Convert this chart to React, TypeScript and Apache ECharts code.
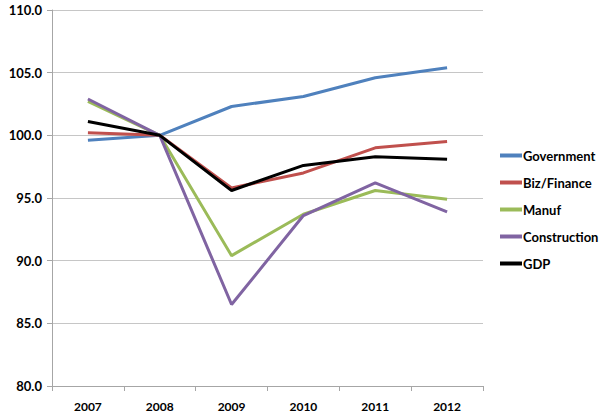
import React, { useEffect, useRef } from "react";
import * as echarts from "echarts";

const years = ["2007", "2008", "2009", "2010", "2011", "2012"];
const government = [99.6, 100.0, 102.3, 103.1, 104.6, 105.4];
const bizFinance = [100.2, 100.0, 95.8, 97.0, 99.0, 99.5];
const manuf = [102.7, 100.0, 90.4, 93.7, 95.6, 94.9];
const construction = [102.9, 100.0, 86.5, 93.6, 96.2, 93.9];
const gdp = [101.1, 100.0, 95.6, 97.6, 98.3, 98.1];

const seriesDefs = [
  { name: "Government", data: government, color: "#4f81bd" },
  { name: "Biz/Finance", data: bizFinance, color: "#c0504d" },
  { name: "Manuf", data: manuf, color: "#9bbb59" },
  { name: "Construction", data: construction, color: "#8064a2" },
  { name: "GDP", data: gdp, color: "#000000" },
];

const FONT = "Lato, 'Liberation Sans', sans-serif";

export default function App() {
  const ref = useRef<HTMLDivElement>(null);
  useEffect(() => {
    if (!ref.current) return;
    const chart = echarts.init(ref.current, null, { renderer: "svg" });
    chart.setOption({
      animation: false,
      backgroundColor: "#ffffff",
      grid: { left: 52, right: 131, top: 10, bottom: 30, containLabel: false },
      legend: {
        orient: "vertical",
        left: 495,
        top: 144,
        itemWidth: 22,
        itemHeight: 4,
        itemGap: 14,
        icon: "rect",
        textStyle: { fontFamily: FONT, fontWeight: "bold", fontSize: 13, color: "#000", padding: [0, 0, 0, -4] },
        data: seriesDefs.map((s) => s.name),
      },
      xAxis: {
        type: "category",
        data: years,
        boundaryGap: true,
        axisLine: { lineStyle: { color: "#a6a6a6", width: 1 } },
        axisTick: { show: true, alignWithLabel: false, length: 5, lineStyle: { color: "#a6a6a6" } },
        axisLabel: { fontFamily: FONT, fontWeight: "bold", fontSize: 12, color: "#000", margin: 14 },
        splitLine: { show: false },
      },
      yAxis: {
        type: "value",
        min: 80,
        max: 110,
        interval: 5,
        axisLine: { show: true, lineStyle: { color: "#a6a6a6", width: 1 } },
        axisTick: { show: true, inside: false, length: 5, lineStyle: { color: "#a6a6a6" } },
        axisLabel: {
          fontFamily: FONT,
          fontWeight: "bold",
          fontSize: 13,
          color: "#000",
          margin: 10,
          formatter: (v: number) => v.toFixed(1),
        },
        splitLine: { show: true, lineStyle: { color: "#c6c6c6", width: 1 } },
      },
      series: seriesDefs.map((s) => ({
        name: s.name,
        type: "line",
        data: s.data,
        symbol: "none",
        color: s.color,
        lineStyle: { color: s.color, width: 3 },
        itemStyle: { color: s.color },
      })),
    });
    return () => chart.dispose();
  }, []);
  return <div ref={ref} style={{ position: "absolute", left: 0, top: 0, width: 614, height: 416 }} />;
}
